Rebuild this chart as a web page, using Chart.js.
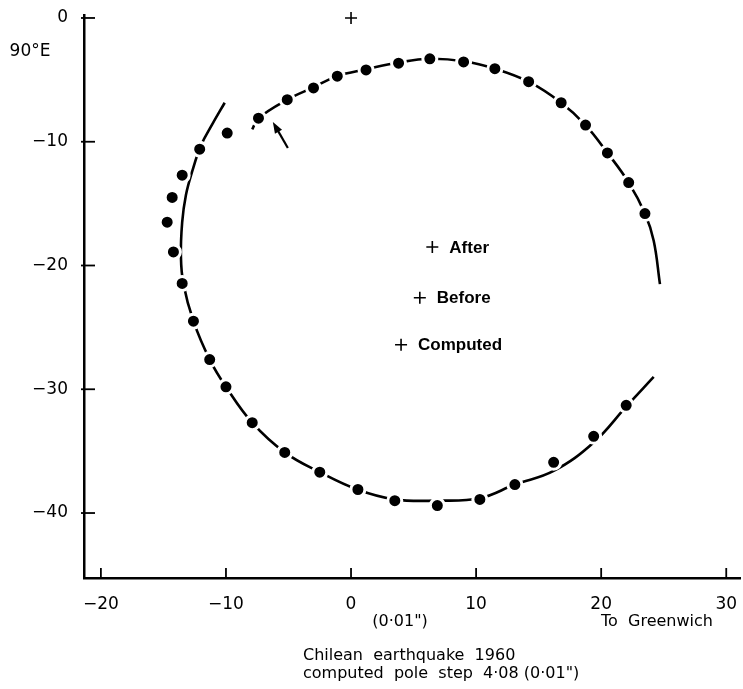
<!DOCTYPE html>
<html>
<head>
<meta charset="utf-8">
<script src="https://cdn.jsdelivr.net/npm/chart.js@4.4.1/dist/chart.umd.min.js"></script>
<style>
  html, body { margin: 0; padding: 0; background: #fff; }
</style>
</head>
<body>
<canvas id="pole" width="743" height="689"></canvas>
<script>
// observed pole positions (0.01")
var dotX = [-7.4, -5.1, -3.0, -1.1, 1.2, 3.8, 6.3, 9.0, 11.5, 14.2, 16.8, 18.75, 20.5, 22.2, 23.5,
  22.0, 19.4, 16.2, 13.1, 10.3, 6.9, 3.5, 0.55, -2.5, -5.3, -7.9, -10.0, -11.3, -12.6, -13.5,
  -14.2, -14.7, -14.3, -13.5, -12.1, -9.9];
var dotY = [-8.1, -6.6, -5.65, -4.7, -4.2, -3.65, -3.3, -3.55, -4.1, -5.15, -6.85, -8.65, -10.9, -13.3, -15.8,
  -31.3, -33.8, -35.9, -37.7, -38.9, -39.4, -39.0, -38.1, -36.7, -35.1, -32.7, -29.8, -27.6, -24.5, -21.45,
  -18.9, -16.5, -14.5, -12.7, -10.6, -9.3];

// fitted path, upper part (after the step)
var topX = [-7.9, -7.4, -5.1, -3.0, -1.1, 1.2, 3.8, 6.3, 9.0, 11.5, 14.2, 16.8, 18.75, 20.5, 22.2, 23.5, 24.2, 24.7];
var topY = [-9.0, -8.1, -6.6, -5.6, -4.7, -4.15, -3.6, -3.3, -3.5, -4.1, -5.15, -6.85, -8.65, -10.9, -13.3, -15.8, -18.0, -21.5];

// fitted path, lower part (before the step)
var lowX = [-10.1, -11.1, -12.0, -12.7, -13.2, -13.5, -13.6, -13.4, -12.6, -11.3, -10.0, -7.9, -5.3, -2.5,
  0.5, 3.5, 6.9, 10.3, 13.1, 16.2, 19.4, 22.0, 24.2];
var lowY = [-6.85, -8.6, -10.3, -12.4, -14.3, -16.5, -19.3, -21.5, -24.5, -27.6, -29.8, -32.7, -35.1, -36.7,
  -38.1, -38.9, -39.0, -38.8, -37.7, -36.6, -34.3, -31.4, -29.0];

// mean pole positions
var crossX = [0, 6.5, 5.5, 4.0];
var crossY = [0, -18.5, -22.6, -26.4];
var crossLabels = ["", "After", "Before", "Computed"];

// arrow marking the earthquake
var arrowFrom = [-5.05, -10.5];
var arrowTo = [-6.25, -8.4];

var xTicks = [-20, -10, 0, 10, 20, 30];
var yTicks = [0, -10, -20, -30, -40];

var tickFont = "DejaVu Sans";

function toPts(xs, ys) {
  return xs.map(function (x, i) { return { x: x, y: ys[i] }; });
}

function fmt(v) {
  return v < 0 ? "\u2212" + Math.abs(v) : String(v);
}

var extras = {
  id: "extras",
  afterDraw: function (chart) {
    var c = chart.ctx, xs = chart.scales.x, ys = chart.scales.y, a = chart.chartArea;
    c.save();
    c.strokeStyle = "#000";
    c.fillStyle = "#000";

    // inward tick marks
    c.lineWidth = 1.8;
    xTicks.forEach(function (v) {
      var px = xs.getPixelForValue(v);
      c.beginPath(); c.moveTo(px, a.bottom); c.lineTo(px, a.bottom - 10); c.stroke();
    });
    yTicks.forEach(function (v) {
      var py = ys.getPixelForValue(v);
      c.beginPath(); c.moveTo(a.left - 3, py); c.lineTo(a.left + 11, py); c.stroke();
    });

    // arrow
    var x0 = xs.getPixelForValue(arrowFrom[0]), y0 = ys.getPixelForValue(arrowFrom[1]);
    var x1 = xs.getPixelForValue(arrowTo[0]), y1 = ys.getPixelForValue(arrowTo[1]);
    var ang = Math.atan2(y1 - y0, x1 - x0);
    c.lineWidth = 2.2;
    c.beginPath(); c.moveTo(x0, y0); c.lineTo(x1 - 6 * Math.cos(ang), y1 - 6 * Math.sin(ang)); c.stroke();
    c.beginPath();
    c.moveTo(x1, y1);
    c.lineTo(x1 - 12 * Math.cos(ang - 0.35), y1 - 12 * Math.sin(ang - 0.35));
    c.lineTo(x1 - 12 * Math.cos(ang + 0.35), y1 - 12 * Math.sin(ang + 0.35));
    c.closePath(); c.fill();

    // labels beside the crosses
    c.font = "bold 17px 'Liberation Sans', Arial, sans-serif";
    c.textAlign = "left";
    c.textBaseline = "middle";
    crossLabels.forEach(function (t, i) {
      if (!t) return;
      c.fillText(t, xs.getPixelForValue(crossX[i]) + 17, ys.getPixelForValue(crossY[i]) + 1);
    });

    // other text
    c.font = "17px '" + tickFont + "'";
    c.textAlign = "center";
    c.fillText("90\u00b0E", 30, 52);
    c.font = "16px '" + tickFont + "'";
    c.fillText("(0\u00b701\")", 400, 622);
    c.fillText("To  Greenwich", 657, 622);
    c.textAlign = "left";
    c.fillText("Chilean  earthquake  1960", 303, 656);
    c.fillText("computed  pole  step  4\u00b708 (0\u00b701\")", 303, 674);
    c.restore();
  }
};

new Chart(document.getElementById("pole"), {
  type: "scatter",
  data: {
    datasets: [
      {
        data: toPts(dotX, dotY),
        pointRadius: 7,
        pointBackgroundColor: "#000",
        pointBorderColor: "#fff",
        pointBorderWidth: 3
      },
      {
        data: toPts(crossX, crossY),
        pointStyle: "cross",
        pointRadius: 6,
        pointBorderColor: "#000",
        pointBorderWidth: 1.6,
        clip: false
      },
      {
        data: toPts(topX, topY),
        showLine: true,
        borderColor: "#000",
        borderWidth: 2.6,
        pointRadius: 0,
        tension: 0.4
      },
      {
        data: toPts(lowX, lowY),
        showLine: true,
        borderColor: "#000",
        borderWidth: 2.6,
        pointRadius: 0,
        tension: 0.4
      }
    ]
  },
  options: {
    responsive: false,
    animation: false,
    events: [],
    layout: { autoPadding: false, padding: { top: 15.5, right: 3, left: 0, bottom: 0 } },
    plugins: { legend: { display: false }, tooltip: { enabled: false } },
    scales: {
      x: {
        type: "linear",
        min: -21.35,
        max: 31.1,
        afterBuildTicks: function (s) { s.ticks = xTicks.map(function (v) { return { value: v }; }); },
        afterFit: function (s) { s.height = 111; s.paddingLeft = 0; s.paddingRight = 0; },
        grid: { display: false },
        border: { display: true, color: "#000", width: 2.5 },
        ticks: { color: "#000", font: { family: tickFont, size: 17 }, padding: 8, maxRotation: 0, autoSkip: false, callback: fmt }
      },
      y: {
        type: "linear",
        min: -45.25,
        max: 0.2,
        afterBuildTicks: function (s) { s.ticks = yTicks.map(function (v) { return { value: v }; }); },
        afterFit: function (s) { s.width = 84; s.paddingTop = 0; s.paddingBottom = 0; },
        grid: { display: false },
        border: { display: true, color: "#000", width: 2.5 },
        ticks: { color: "#000", font: { family: tickFont, size: 17 }, padding: 8, autoSkip: false, callback: fmt }
      }
    }
  },
  plugins: [extras]
});
</script>
</body>
</html>
